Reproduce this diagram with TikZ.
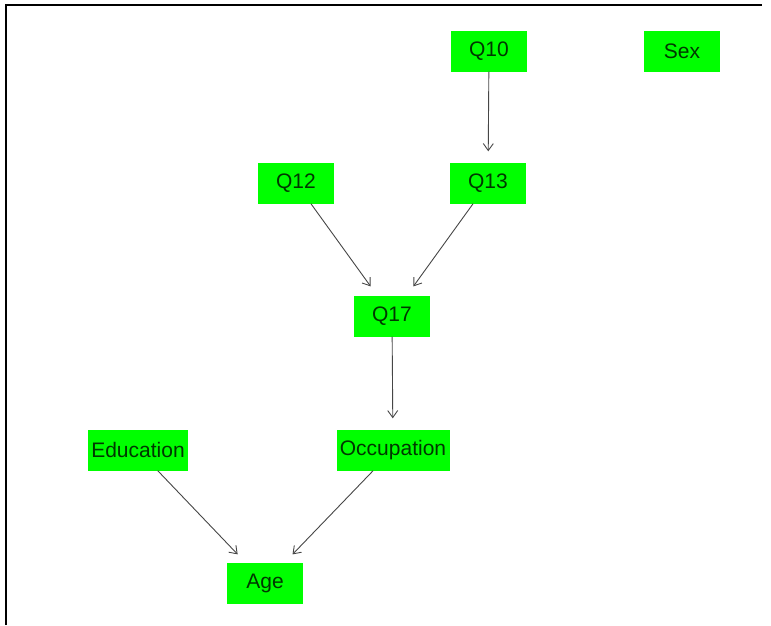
\documentclass[tikz,border=0pt]{standalone}
\definecolor{nodegreen}{RGB}{0, 255, 0}
\definecolor{labelgreen}{RGB}{0, 55, 0}
\definecolor{edgegray}{RGB}{70, 70, 70}
\usepackage{fontspec}
\setmainfont{Liberation Sans}
\usepackage{tikz}
\usetikzlibrary{arrows.meta, positioning}

\begin{document}
\begin{tikzpicture}[x=1pt, y=-1pt,
  var/.style={fill=nodegreen, text=labelgreen, minimum width=76pt, minimum height=41pt,
    inner sep=0pt, font=\fontsize{21}{23}\selectfont},
  edge/.style={draw=edgegray, line width=0.9pt, -{Straight Barb[length=7pt, width=10pt]},
    shorten >=11pt}]
  \useasboundingbox (0,0) rectangle (771,625);
  % frame on the top and left
  \draw[line width=2pt] (6,625) -- (6,5) -- (762,5);

  \node[var] (q10) at (489,51) {Q10};
  \node[var] (sex) at (682,51) {Sex};
  \node[var] (q12) at (296,183) {Q12};
  \node[var] (q13) at (488,183) {Q13};
  \node[var] (q17) at (392,316) {Q17};
  \node[var, minimum width=100pt] (edu) at (138,450) {Education};
  \node[var, minimum width=113pt] (occ) at (393,450) {Occupation};
  \node[var] (age) at (265,583) {Age};

  \draw[edge] (q10) -- (q13);
  \draw[edge] (q12) -- (q17);
  \draw[edge] (q13) -- (q17);
  \draw[edge] (q17) -- (occ);
  \draw[edge] (edu) -- (age);
  \draw[edge] (occ) -- (age);
\end{tikzpicture}
\end{document}
